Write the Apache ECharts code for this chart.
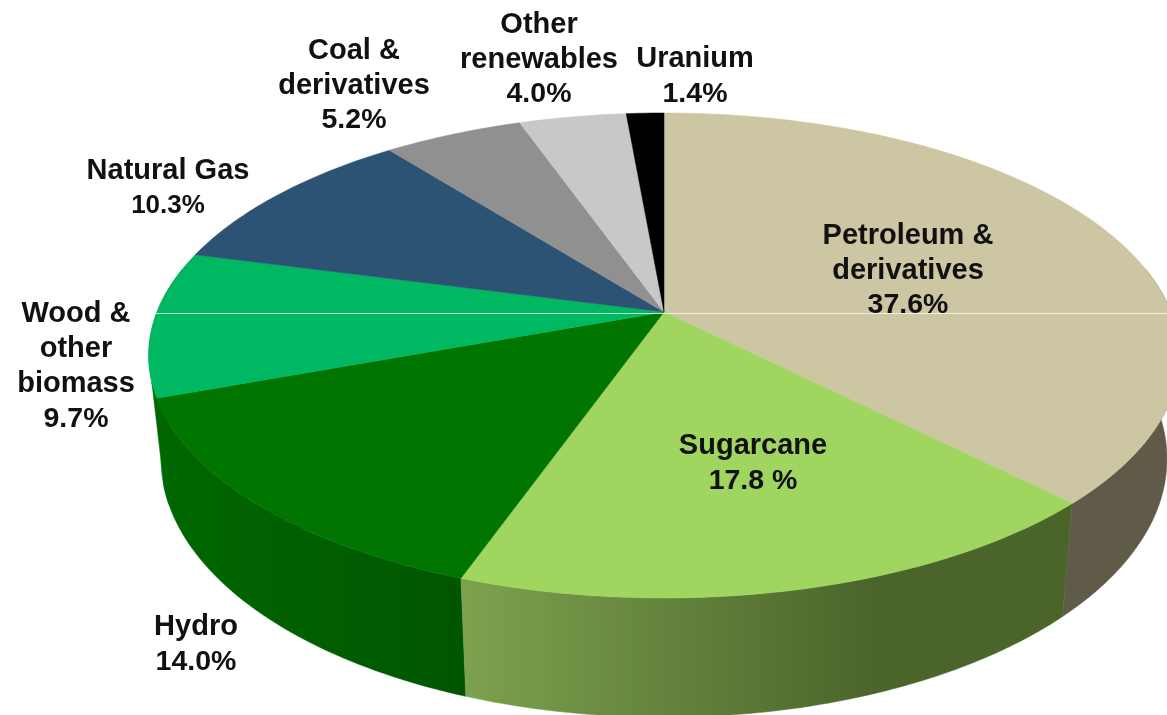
<!DOCTYPE html>
<html><head><meta charset="utf-8">
<style>html,body{margin:0;padding:0;background:#fff;overflow:hidden}#c{width:1167px;height:715px}</style>
<script src="https://cdn.jsdelivr.net/npm/echarts@6/dist/echarts.min.js"></script>
</head><body><div id="c"></div>
<script>
const categories = ['Petroleum &\nderivatives','Sugarcane','Hydro','Wood &\nother\nbiomass','Natural Gas','Coal &\nderivatives','Other\nrenewables','Uranium'];
const values = [37.6,17.8,14.0,9.7,10.3,5.2,4.0,1.4];
const valueLabels = ['37.6%','17.8 %','14.0%','9.7%','10.3%','5.2%','4.0%','1.4%'];
const topColors = ['#cdc6a3','#a0d660','#007500','#00b862','#2c5274','#909090','#c8c8c8','#000000'];
const sideStart = ['#605b49','#7da24f','#006800','#00a858','#2c5274','#909090','#c8c8c8','#000000'];
const sideEnd   = ['#605b49','#4a642a','#005600','#00a858','#2c5274','#909090','#c8c8c8','#000000'];
const labelCentres = [[908,270.5],[753,463.5],[196,644.5],[76,366.5],[168,188.5],[354,85.5],[539,59.5],[695,76.5]];
const valueFontSizes = [28.5,28.5,28.5,28.5,26,28.5,28.5,28.5];

const total = values.reduce((a,b)=>a+b,0);
const starts = [];
values.reduce((acc,v,i)=>{starts[i]=acc;return acc+v;},0);
// perspective pie geometry
const P = {cx:664, cy:312, A:507, B:234.7, k:-0.1793, shrink:0.976, ya:80.4, yb:1.065};
const sideVisible = [22,78];        // part of the rim whose wall faces the viewer
function rim(pct){
  const t = pct/total*2*Math.PI, u = Math.sin(t), v = -Math.cos(t), w = 1+P.k*v;
  return [P.cx+P.A*u/w, P.cy+P.B*v/w];
}
function base(p){ return [P.cx+P.shrink*(p[0]-P.cx), P.ya+P.yb*p[1]]; }
function arcBetween(s,e){
  const n = Math.max(2,Math.ceil((e-s)*3.6)), pts=[];
  for(let j=0;j<=n;j++) pts.push(rim(s+(e-s)*j/n));
  return pts;
}
const data = categories.map((c,i)=>({name:c,value:values[i]}));
const chart = echarts.init(document.getElementById('c'),null,{renderer:'canvas'});
chart.setOption({
  animation:false,
  backgroundColor:'#ffffff',
  graphic:[{type:'rect',z:100,silent:true,shape:{x:156,y:313,width:1011,height:1},style:{fill:'rgba(255,255,240,0.75)'}}],
  series:[
    {type:'custom',coordinateSystem:'none',silent:true,z:1,data:data.slice().reverse(),
     renderItem(params,api){
       const i=categories.length-1-params.dataIndex;
       const s=Math.max(starts[i],sideVisible[0]);
       let e=Math.min(starts[i]+values[i],sideVisible[1]);
       if(e<=s) return null;
       if(i===2) e+=1;
       const top=arcBetween(s,e), bot=top.map(base).reverse();
       const fill={type:'linear',global:true,x:i===1?460:150,y:0,x2:i===1?880:460,y2:0,
         colorStops:[{offset:0,color:sideStart[i]},{offset:1,color:sideEnd[i]}]};
       return {type:'polygon',shape:{points:top.concat(bot)},style:{fill:fill,stroke:fill,lineWidth:0.5}};
     }},
    {type:'custom',coordinateSystem:'none',silent:true,z:2,data:data,
     renderItem(params,api){
       const i=params.dataIndex;
       return {type:'polygon',shape:{points:[[P.cx,P.cy]].concat(arcBetween(starts[i],starts[i]+values[i]))},
         style:{fill:topColors[i],stroke:topColors[i],lineWidth:0.5}};
     }},
    {type:'custom',coordinateSystem:'none',silent:true,z:3,data:data,
     renderItem(params,api){
       const i=params.dataIndex;
       return {type:'text',x:labelCentres[i][0],y:labelCentres[i][1],
         style:{
           text:categories[i].split('\n').map(l=>'{n|'+l+'}').join('\n')+'\n{v|'+valueLabels[i]+'}',
           align:'center',verticalAlign:'middle',
           rich:{
             n:{font:'bold 29px "Liberation Sans",Arial,sans-serif',fill:'#111111',lineHeight:35,align:'center'},
             v:{font:'bold '+valueFontSizes[i]+'px "Liberation Sans",Arial,sans-serif',fill:'#111111',lineHeight:35,align:'center'}
           }
         }};
     }}
  ]
});
</script></body></html>
